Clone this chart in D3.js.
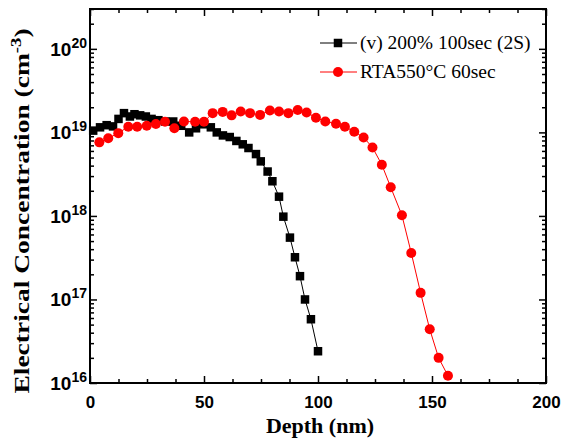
<!DOCTYPE html>
<html>
<head>
<meta charset="utf-8">
<script src="https://cdn.jsdelivr.net/npm/d3@7"></script>
<style>
  body { margin: 0; background: #fff; }
  svg { display: block; }
</style>
</head>
<body>
<div id="chart"></div>
<script>
// depth (nm), electrical concentration (cm^-3)
const blackDepth = [1.4, 4.4, 7.3, 10.1, 12.5, 14.9, 17.5, 19.5, 22, 24.5, 27, 30, 33, 36.5, 40, 43.5, 46.5, 49.6, 53, 55.6, 58.3, 61.3, 64.2, 67, 69.5, 72.8, 74.9, 77.9, 80, 82.9, 84.8, 87.7, 89.9, 92.1, 94.3, 96.9, 100];
const blackConc = [1.05e19, 1.15e19, 1.22e19, 1.18e19, 1.45e19, 1.7e19, 1.55e19, 1.65e19, 1.6e19, 1.55e19, 1.45e19, 1.4e19, 1.35e19, 1.35e19, 1.2e19, 1.0e19, 1.12e19, 1.25e19, 1.15e19, 1.0e19, 9.2e18, 8.8e18, 7.9e18, 7.2e18, 6.5e18, 5.5e18, 4.5e18, 3.4e18, 2.6e18, 1.7e18, 9.8e17, 5.5e17, 3.2e17, 1.9e17, 1.0e17, 5.8e16, 2.4e16];

const redDepth = [4.1, 8.0, 12.4, 16.8, 20.7, 24.9, 28.9, 32.9, 37, 41.2, 46.1, 50, 53.8, 58.2, 62.1, 66.1, 70.2, 74.6, 78.9, 82.9, 87, 91.1, 95, 99.1, 103.2, 107.9, 111.8, 115.9, 120, 123.9, 128, 131.9, 136.8, 140.9, 145, 149, 152.9, 157];
const redConc = [7.6e18, 8.5e18, 9.8e18, 1.17e19, 1.17e19, 1.2e19, 1.26e19, 1.34e19, 1.12e19, 1.35e19, 1.34e19, 1.34e19, 1.7e19, 1.76e19, 1.6e19, 1.78e19, 1.7e19, 1.62e19, 1.83e19, 1.78e19, 1.7e19, 1.85e19, 1.73e19, 1.5e19, 1.35e19, 1.27e19, 1.17e19, 1.02e19, 8.7e18, 6.6e18, 4.1e18, 2.2e18, 1.02e18, 3.6e17, 1.2e17, 4.4e16, 2.0e16, 1.22e16];

const seriesNames = ["(v) 200% 100sec (2S)", "RTA550°C 60sec"];
const xMajorTicks = [0, 50, 100, 150, 200];
const xMinorTicks = [12.5, 25, 37.5, 62.5, 75, 87.5, 112.5, 125, 137.5, 162.5, 175, 187.5];
const yExponents = [16, 17, 18, 19, 20];

const width = 562;
const height = 438;
const margin = { top: 9, right: 16, bottom: 55, left: 90 };

const x = d3.scaleLinear().domain([0, 200]).range([margin.left, width - margin.right]);
const y = d3.scaleLog().domain([1e16, 3e20]).range([height - margin.bottom, margin.top]);

const yMajor = yExponents.map((e) => Math.pow(10, e));
const yMinor = [];
yExponents.forEach((e) => {
  for (let k = 2; k <= 9; k++) {
    const v = k * Math.pow(10, e);
    if (v <= 3e20) yMinor.push(v);
  }
});

const svg = d3.select("#chart").append("svg")
  .attr("width", width)
  .attr("height", height);

const bottomY = height - margin.bottom;
const rightX = width - margin.right;

function styleAxis(g) {
  g.select(".domain").remove();
  g.selectAll("line").attr("stroke", "#000").attr("stroke-width", 1.5);
}

// bottom / top axes, ticks pointing inward
svg.append("g").attr("transform", `translate(0,${bottomY})`)
  .call(d3.axisBottom(x).tickValues(xMajorTicks).tickSize(-7).tickPadding(13).tickFormat(d3.format("d")))
  .call(styleAxis)
  .call((g) => g.selectAll("text")
    .attr("font-family", "Liberation Sans, Arial, sans-serif")
    .attr("font-weight", "bold")
    .attr("font-size", 17)
    .attr("fill", "#000"));
svg.append("g").attr("transform", `translate(0,${bottomY})`)
  .call(d3.axisBottom(x).tickValues(xMinorTicks).tickSize(-4).tickFormat(""))
  .call(styleAxis);
svg.append("g").attr("transform", `translate(0,${margin.top})`)
  .call(d3.axisTop(x).tickValues(xMajorTicks).tickSize(-7).tickFormat(""))
  .call(styleAxis);
svg.append("g").attr("transform", `translate(0,${margin.top})`)
  .call(d3.axisTop(x).tickValues(xMinorTicks).tickSize(-4).tickFormat(""))
  .call(styleAxis);

// left / right axes
svg.append("g").attr("transform", `translate(${margin.left},0)`)
  .call(d3.axisLeft(y).tickValues(yMajor).tickSize(-7).tickFormat(""))
  .call(styleAxis);
svg.append("g").attr("transform", `translate(${margin.left},0)`)
  .call(d3.axisLeft(y).tickValues(yMinor).tickSize(-4).tickFormat(""))
  .call(styleAxis);
svg.append("g").attr("transform", `translate(${rightX},0)`)
  .call(d3.axisRight(y).tickValues(yMajor).tickSize(-7).tickFormat(""))
  .call(styleAxis);
svg.append("g").attr("transform", `translate(${rightX},0)`)
  .call(d3.axisRight(y).tickValues(yMinor).tickSize(-4).tickFormat(""))
  .call(styleAxis);

// y tick labels 10^n
const yLabels = svg.append("g")
  .attr("font-family", "Liberation Sans, Arial, sans-serif")
  .attr("font-weight", "bold")
  .attr("fill", "#000");
yExponents.forEach((e) => {
  const t = yLabels.append("text")
    .attr("x", margin.left - 3)
    .attr("y", y(Math.pow(10, e)) + 7)
    .attr("text-anchor", "end");
  t.append("tspan").attr("font-size", 19).text("10");
  t.append("tspan").attr("font-size", 14).attr("dy", -8).text(e);
});

// frame
svg.append("rect")
  .attr("x", margin.left)
  .attr("y", margin.top)
  .attr("width", rightX - margin.left)
  .attr("height", bottomY - margin.top)
  .attr("fill", "none")
  .attr("stroke", "#000")
  .attr("stroke-width", 2);

const line = d3.line().x((d) => x(d[0])).y((d) => y(d[1]));
const blackData = blackDepth.map((d, i) => [d, blackConc[i]]);
const redData = redDepth.map((d, i) => [d, redConc[i]]);

svg.append("path").datum(blackData)
  .attr("d", line).attr("fill", "none").attr("stroke", "#000").attr("stroke-width", 1);
svg.append("path").datum(redData)
  .attr("d", line).attr("fill", "none").attr("stroke", "#ff0000").attr("stroke-width", 1);

const sq = 8.5;
svg.append("g").selectAll("rect").data(blackData).join("rect")
  .attr("x", (d) => x(d[0]) - sq / 2)
  .attr("y", (d) => y(d[1]) - sq / 2)
  .attr("width", sq).attr("height", sq)
  .attr("fill", "#000");

svg.append("g").selectAll("circle").data(redData).join("circle")
  .attr("cx", (d) => x(d[0]))
  .attr("cy", (d) => y(d[1]))
  .attr("r", 5)
  .attr("fill", "#ff0000");

// legend
const legend = svg.append("g")
  .attr("font-family", "Liberation Serif, Times New Roman, serif")
  .attr("font-size", 19.5)
  .attr("fill", "#000");
const legendColors = ["#000", "#ff0000"];
seriesNames.forEach((name, i) => {
  const ly = 43 + i * 29;
  legend.append("line")
    .attr("x1", 320).attr("x2", 357).attr("y1", ly).attr("y2", ly)
    .attr("stroke", legendColors[i]).attr("stroke-width", 1);
  if (i === 0) {
    legend.append("rect").attr("x", 338 - sq / 2).attr("y", ly - sq / 2)
      .attr("width", sq).attr("height", sq).attr("fill", "#000");
  } else {
    legend.append("circle").attr("cx", 338).attr("cy", ly).attr("r", 5).attr("fill", "#ff0000");
  }
  legend.append("text").attr("x", 360).attr("y", ly + 6).text(name);
});

// axis titles
svg.append("text")
  .attr("x", 320)
  .attr("y", 433)
  .attr("text-anchor", "middle")
  .attr("font-family", "Liberation Serif, Times New Roman, serif")
  .attr("font-weight", "bold")
  .attr("font-size", 22)
  .text("Depth (nm)");

const yTitle = svg.append("text")
  .attr("transform", "translate(29,211) rotate(-90) scale(1.25,1)")
  .attr("text-anchor", "middle")
  .attr("font-family", "Liberation Serif, Times New Roman, serif")
  .attr("font-weight", "bold")
  .attr("font-size", 22);
yTitle.append("tspan").text("Electrical Concentration (cm");
yTitle.append("tspan").attr("font-size", 15).attr("dy", -8).text("-3");
yTitle.append("tspan").attr("dy", 8).text(")");
</script>
</body>
</html>
